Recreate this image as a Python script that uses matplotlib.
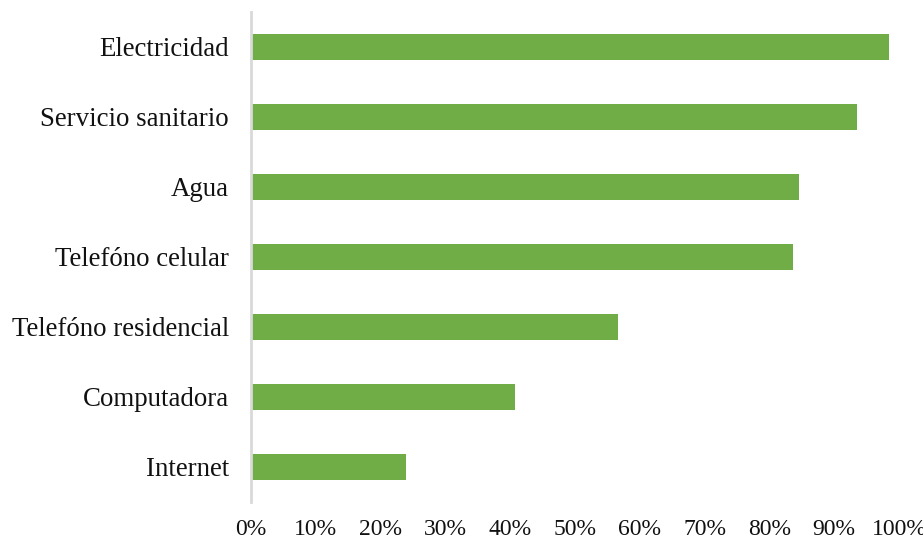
import matplotlib
matplotlib.use("Agg")
import matplotlib.pyplot as plt
from matplotlib.ticker import FuncFormatter

categories = ["Electricidad", "Servicio sanitario", "Agua", "Telefóno celular",
              "Telefóno residencial", "Computadora", "Internet"]
values = [0.985, 0.935, 0.846, 0.836, 0.566, 0.408, 0.239]
xticks = [0, 0.1, 0.2, 0.3, 0.4, 0.5, 0.6, 0.7, 0.8, 0.9, 1.0]

plt.rcParams['font.family'] = ['Liberation Serif', 'DejaVu Serif']

fig = plt.figure(figsize=(9.23, 5.40), dpi=100)
ax = fig.add_axes([251/923, 1 - 502/540, 648/923, 490/540])

ypos = list(range(len(categories)))[::-1]
ax.barh(ypos, values, height=0.36, color="#70AD47")
ax.set_xlim(0, 1)
ax.set_ylim(-0.5, len(categories) - 0.5)
ax.set_yticks(ypos)
ax.set_yticklabels(categories, fontsize=19.4)
ax.set_xticks(xticks)
ax.xaxis.set_major_formatter(FuncFormatter(lambda v, p: f"{v*100:.0f}%"))
ax.tick_params(axis='x', labelsize=17, length=0, pad=12, colors='#111111')
ax.tick_params(axis='y', length=0, pad=16, colors='#111111')
for s in ['top', 'right', 'bottom']:
    ax.spines[s].set_visible(False)
ax.spines['left'].set_color('#d9d9d9')
ax.spines['left'].set_linewidth(2)

fig.savefig("out.png", dpi=100)
